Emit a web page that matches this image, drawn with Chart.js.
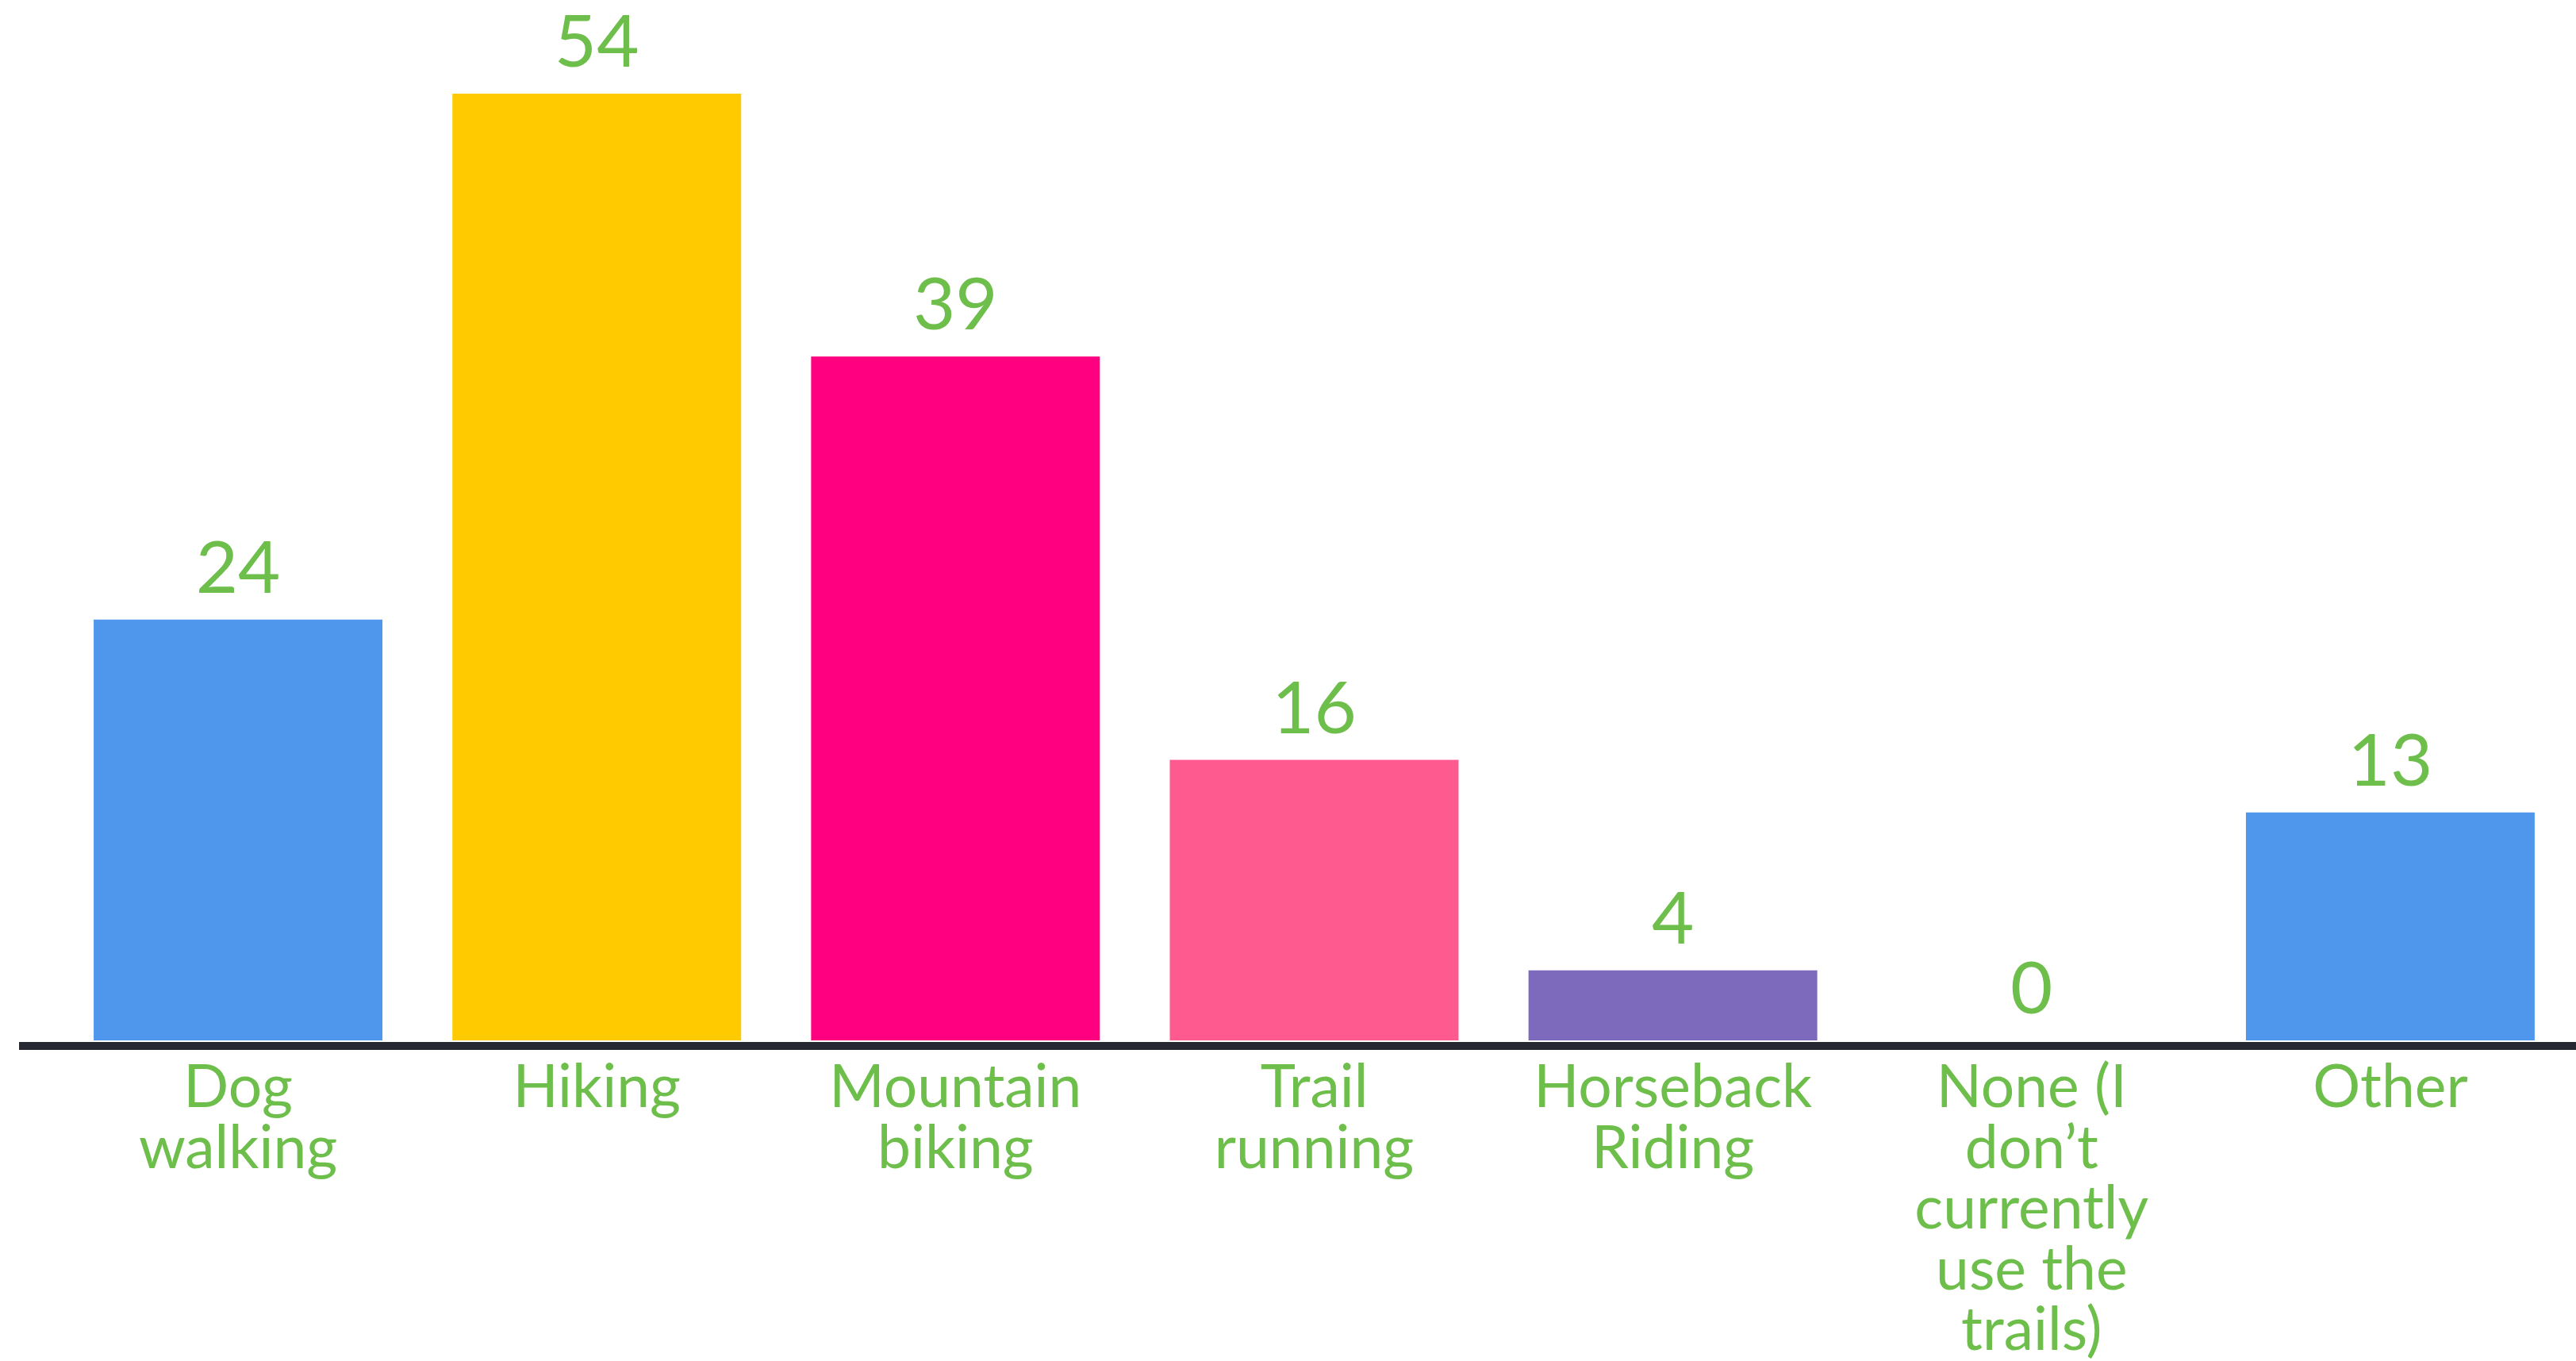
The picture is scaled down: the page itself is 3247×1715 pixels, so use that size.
<!DOCTYPE html>
<html>
<head>
<meta charset="utf-8">
<script src="https://cdn.jsdelivr.net/npm/chart.js@4/dist/chart.umd.min.js"></script>
<style>
  html, body { margin: 0; padding: 0; background: #ffffff; }
  #wrap { width: 3247px; height: 1715px; position: relative; }
</style>
</head>
<body>
<div id="wrap"><canvas id="c" width="3247" height="1715"></canvas></div>
<script>
const categories = [
  ["Dog", "walking"],
  ["Hiking"],
  ["Mountain", "biking"],
  ["Trail", "running"],
  ["Horseback", "Riding"],
  ["None (I", "don\u2019t", "currently", "use the", "trails)"],
  ["Other"]
];
const values = [24, 54, 39, 16, 4, 0, 13];
const barColors = ["#4F97EC", "#FFCB00", "#FF0080", "#FF5A8F", "#7D6ABD", "#4F97EC", "#4F97EC"];

const GREEN = "#6DBE4B";
const FONT = "Lato, 'Open Sans', sans-serif";

const valueLabels = {
  id: "valueLabels",
  afterDatasetsDraw(chart) {
    const ctx = chart.ctx;
    const meta = chart.getDatasetMeta(0);
    ctx.save();
    ctx.fillStyle = GREEN;
    ctx.font = "92px " + FONT;
    ctx.textAlign = "center";
    ctx.textBaseline = "alphabetic";
    meta.data.forEach((bar, i) => {
      ctx.fillText(String(values[i]), bar.x, bar.y - 34);
    });
    ctx.restore();
  }
};

const baseLine = {
  id: "baseLine",
  afterDatasetsDraw(chart) {
    const ctx = chart.ctx;
    const y0 = chart.scales.y.getPixelForValue(0);
    ctx.save();
    ctx.strokeStyle = "#262932";
    ctx.lineWidth = 10;
    ctx.beginPath();
    ctx.moveTo(24, y0 + 7);
    ctx.lineTo(chart.width, y0 + 7);
    ctx.stroke();
    ctx.restore();
  }
};

new Chart(document.getElementById("c"), {
  type: "bar",
  data: {
    labels: categories,
    datasets: [{
      data: values,
      backgroundColor: barColors,
      borderWidth: 0,
      barPercentage: 0.805,
      categoryPercentage: 1.0
    }]
  },
  options: {
    responsive: false,
    animation: false,
    devicePixelRatio: 1,
    layout: { padding: { left: 74, right: 8, top: 0, bottom: 0 } },
    plugins: {
      legend: { display: false },
      tooltip: { enabled: false },
      title: { display: false }
    },
    scales: {
      x: {
        grid: { display: false, drawTicks: false },
        border: { display: false },
        ticks: {
          color: GREEN,
          font: { family: FONT, size: 75, lineHeight: 1.02 },
          padding: 22,
          maxRotation: 0,
          autoSkip: false
        },
        afterFit(scale) { scale.height = 404; }
      },
      y: {
        display: false,
        min: 0,
        max: 59.34
      }
    }
  },
  plugins: [valueLabels, baseLine]
});
</script>
</body>
</html>
